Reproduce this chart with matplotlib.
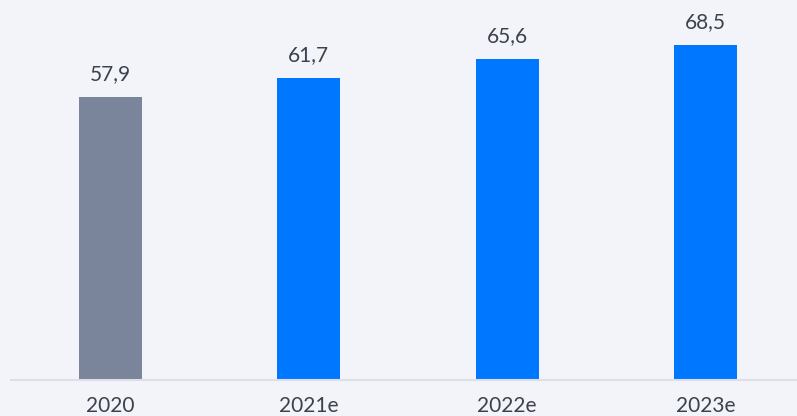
import matplotlib
matplotlib.use("Agg")
import matplotlib.pyplot as plt

years = ["2020", "2021e", "2022e", "2023e"]
values = [57.9, 61.7, 65.6, 68.5]
value_labels = ["57,9", "61,7", "65,6", "68,5"]
bar_colors = ["#7a849a", "#0077ff", "#0077ff", "#0077ff"]

bg = "#f3f4f9"
text_color = "#3b424e"

plt.rcParams["font.family"] = ["Lato", "DejaVu Sans"]

fig = plt.figure(figsize=(7.97, 4.16), dpi=100, facecolor=bg)
ax = fig.add_axes([11 / 797, (416 - 379.5) / 416, 786 / 797, 379.5 / 416])
ax.set_facecolor(bg)

x = list(range(len(years)))
ax.bar(x, values, width=0.318, color=bar_colors, zorder=2)

# value labels above bars
for xi, v, lab in zip(x, values, value_labels):
    ax.annotate(lab, (xi, v), xytext=(0, 12.2), textcoords="offset points",
                ha="center", va="baseline", fontsize=15, color=text_color)

ax.set_xlim(-0.502, 3.462)
ax.set_ylim(0, 77.77)
ax.set_xticks(x)
ax.set_xticklabels(years, fontsize=15, color=text_color)
ax.tick_params(axis="x", length=0, pad=12)
ax.set_yticks([])
for s in ["top", "left", "right"]:
    ax.spines[s].set_visible(False)
ax.spines["bottom"].set_color("#dcdfe7")
ax.spines["bottom"].set_linewidth(1.5)

fig.savefig("out.png", dpi=100, facecolor=bg)
